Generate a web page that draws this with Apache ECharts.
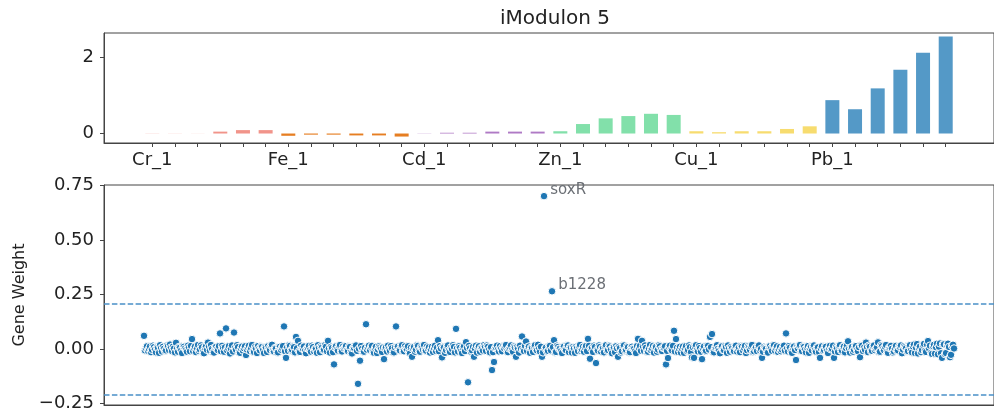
<!DOCTYPE html>
<html>
<head>
<meta charset="utf-8">
<title>iModulon 5</title>
<script src="https://cdn.jsdelivr.net/npm/echarts@6/dist/echarts.min.js"></script>
<style>
html, body { margin: 0; padding: 0; background: #fff; }
#chart { width: 994px; height: 414px; }
</style>
</head>
<body>
<div id="chart"></div>
<script>
// activity of the iModulon per sample, 6 samples per group
var groupLabels = ['Cr_1', 'Fe_1', 'Cd_1', 'Zn_1', 'Cu_1', 'Pb_1'];
var groupColors = ['#f1948a', '#e67e22', '#af7ac5', '#82e0aa', '#f7dc6f', '#5499c7'];
var groupSize = 6;
var activity = [
	0.004, -0.003, 0.002, 0.05, 0.09, 0.09,
	-0.06, -0.03, -0.03, -0.05, -0.05, -0.08,
	-0.005, 0.02, 0.02, 0.05, 0.05, 0.05,
	0.06, 0.25, 0.40, 0.46, 0.52, 0.49,
	0.06, 0.035, 0.06, 0.06, 0.12, 0.19,
	0.88, 0.64, 1.19, 1.68, 2.13, 2.56
];
var activityTicks = [0, 2];

// gene weights, in gene order
var geneWeights = [
	.061,-.006,.004,.013,-.008,.001,.012,-.014,-.003,.016,.009,-.002,-.015,.008,.006,-.017,.018,.005,-.011,.011,
	.002,-.009,-.006,.017,.014,-.004,.021,.007,-.009,.012,.003,-.015,.029,.002,-.012,.010,.007,-.007,-.018,.014,
	.011,.003,-.004,-.012,.016,.007,-.010,.015,.046,-.008,.005,.012,-.014,.004,.019,-.009,-.002,.017,.008,-.013,
	-.019,.006,.013,-.003,.030,.011,-.007,.019,.001,-.016,-.016,.008,.010,-.001,-.005,.014,.072,-.010,.015,.005,
	-.012,.008,.095,-.005,.006,.014,-.020,.002,.017,-.011,.076,.006,-.003,.018,.009,-.014,-.017,.003,.012,-.007,
	.004,.013,-.027,-.002,.008,.016,-.009,.005,.019,-.012,-.013,.009,.002,-.018,.014,.001,-.006,.012,.010,-.004,
	-.018,.010,.007,-.013,.013,.002,-.004,.017,.020,-.007,-.011,.005,.003,-.016,-.015,.011,.011,-.003,.006,.014,
	.104,-.009,-.040,.007,-.008,.018,.015,-.006,-.002,.012,.009,-.015,.056,.004,.038,-.010,-.013,.016,.004,.001,
	.012,-.008,-.019,.004,.007,.015,-.005,-.012,.016,.009,-.010,.001,.002,-.017,.018,.006,-.014,.013,.008,-.004,
	-.003,.018,.011,-.010,.038,.003,-.016,.011,.005,-.014,-.070,.007,.013,-.002,-.007,.016,.019,-.009,-.011,.012,
	.003,.009,.014,-.006,-.009,.012,.010,-.015,-.020,.004,.006,.017,.017,-.008,-.159,.002,-.053,.014,.001,-.011,
	-.012,.006,.114,-.003,.008,.016,-.004,.010,.015,-.013,-.017,.005,.011,-.018,-.002,.013,.007,.001,-.013,.008,
	-.046,.005,.009,-.011,.016,.002,-.008,.014,.004,-.016,-.015,.008,.104,.011,.012,-.005,-.006,.017,.018,-.009,
	-.010,.013,.003,-.001,.013,-.014,-.019,.007,-.035,.003,.010,-.012,-.003,.018,.015,-.007,-.012,.010,.006,-.003,
	.019,-.004,-.007,.012,.002,.009,-.016,-.002,.011,-.013,.005,.016,-.009,.006,.041,-.010,.014,.003,-.038,.011,
	.008,-.017,-.004,.014,.017,-.006,-.013,.008,.001,.018,.010,-.015,.093,.004,-.011,.013,.006,-.009,-.018,.007,
	.013,-.009,.032,.006,-.152,.015,.004,-.012,-.006,.010,-.035,.002,.016,-.016,.009,.013,-.012,.005,.003,-.007,
	.018,.011,-.008,.017,.011,-.003,-.015,.009,-.096,-.014,-.059,.004,.007,.016,-.002,-.011,.014,.001,-.010,.012,
	.005,.014,.019,-.010,-.014,.003,.008,.017,-.005,-.012,.012,.007,-.035,.009,.002,-.016,.016,.001,.058,-.004,
	-.009,.015,.035,-.008,.010,.012,-.017,.006,.006,-.013,.013,.018,-.003,-.006,.020,.002,-.011,.011,-.035,-.015,
	.701,.004,.007,-.011,-.008,.013,.015,-.006,.265,.009,.041,-.015,-.013,.016,.010,.001,.003,-.009,-.018,.012,
	.012,-.003,-.005,.018,.017,-.014,.008,.007,-.016,.010,.004,-.017,.011,.005,-.009,.014,.019,-.008,-.002,.011,
	-.012,.007,.014,-.009,.047,.015,-.044,.002,.006,-.013,.016,.010,-.064,-.004,-.007,.017,.010,-.011,.002,.006,
	-.015,.013,.018,-.007,-.004,.016,.012,-.002,-.019,.009,.008,-.014,.013,.004,-.035,.011,.005,-.016,-.010,.018,
	.017,-.006,-.003,.012,.009,-.015,-.014,.008,.011,.003,.001,-.010,-.018,.014,.047,.005,.015,-.008,.038,.011,
	-.008,.017,.006,-.013,-.012,.002,.019,-.005,.004,.015,-.016,.009,.010,-.012,-.002,.018,.013,-.001,-.009,.006,
	.007,.013,-.070,-.008,-.041,.010,.016,-.003,-.006,.015,.084,-.011,.046,.006,-.013,.002,.011,-.016,.003,.012,
	-.017,.004,.014,-.009,-.004,.017,.009,-.014,-.038,.008,-.040,.011,.018,-.005,-.011,.014,.005,-.012,-.046,.003,
	.012,-.010,-.007,.016,.015,-.002,.056,.009,.069,-.013,-.015,.006,.008,.018,.002,-.007,-.019,.011,.013,-.004,
	-.005,.014,.010,-.017,.017,.003,-.012,.010,.004,-.008,-.009,.013,.016,-.011,.001,.007,-.014,.015,.011,-.006,
	.006,.015,-.018,-.005,.013,.008,-.003,.012,.019,-.014,-.010,.004,.008,-.009,.015,.017,-.006,.001,-.040,-.012,
	.011,.006,.002,-.016,-.016,.011,.014,.003,-.008,.018,.018,-.007,.005,.013,-.013,-.001,.010,-.010,-.002,.009,
	.016,-.007,.072,.003,-.011,.014,.007,-.012,-.017,.006,.012,-.004,-.050,.010,.003,.016,.019,-.010,-.009,.013,
	.010,-.002,-.015,.008,.014,-.017,.004,.011,-.006,.015,.017,-.005,-.012,.009,.008,-.014,-.040,.002,.013,-.008,
	-.004,.012,.011,-.008,-.018,.005,.015,-.001,.002,.016,-.040,-.011,.009,.003,-.013,.014,.018,-.006,-.007,.010,
	.012,-.015,.005,.017,.036,.002,-.016,.007,.010,-.012,-.003,.013,.014,-.004,-.010,.009,-.037,.018,.016,-.009,
	.006,-.003,.030,.010,-.014,.016,.011,-.009,-.008,.013,.017,-.005,.003,.008,.031,-.014,-.012,.018,.013,.001,
	-.005,.011,.019,-.012,-.017,.006,.008,.015,.002,-.016,-.011,.004,.015,-.008,-.006,.012,.010,.017,-.019,-.002,
	.014,.009,.004,-.011,-.009,.017,.018,-.006,-.015,.012,.021,-.018,.007,.023,-.020,.005,.012,-.014,-.004,.019,
	.024,-.008,-.013,.021,.037,.003,.016,-.017,-.022,.014,.020,-.021,.009,.025,-.024,.011,.026,-.019,-.040,.022,
	.022,-.023,-.018,.019,.025,.010,-.037,-.026,.015,.020,.003
];
var labelGeneIdx = [400, 408];
var labelGeneNames = ['soxR', 'b1228'];
var weightTicks = [-0.25, 0, 0.25, 0.5, 0.75];
var threshold = 0.21;

var FONT = 'DejaVu Sans';
var chart = echarts.init(document.getElementById('chart'), null, { renderer: 'canvas' });

// bars, coloured by group
var barData = [];
var sampleTicks = [];
var groupTicks = [];
for (var i = 0; i < activity.length; i++) {
	var g = Math.floor(i / groupSize);
	sampleTicks.push(i);
	if (i % groupSize == 0) groupTicks.push(i);
	barData.push({
		value: [i, activity[i]],
		itemStyle: { color: groupColors[g] }
	});
}

// gene points, two of them named
var geneData = [];
for (var j = 0; j < geneWeights.length; j++) {
	var item = { value: [j, geneWeights[j]] };
	var k = labelGeneIdx.indexOf(j);
	if (k >= 0) {
		item.name = labelGeneNames[k];
		item.label = {
			show: true,
			position: 'right',
			distance: 2,
			offset: [0, -6],
			formatter: '{b}',
			color: '#6b6f75',
			fontSize: 15,
			fontFamily: FONT
		};
	}
	geneData.push(item);
}

function fmtWeight(v) {
	var s = Math.abs(v).toFixed(2);
	return v < 0 ? '\u2212' + s : s;
}

var axisCommon = {
	axisLine: { show: true, onZero: false, lineStyle: { color: '#444' } },
	splitLine: { show: false }
};

var option = {
	animation: false,
	backgroundColor: '#fff',
	title: {
		text: 'iModulon 5',
		left: 550,
		top: 4,
		textAlign: 'center',
		textStyle: { fontFamily: FONT, fontSize: 20, fontWeight: 'normal', color: '#222' }
	},
	grid: [
		{ left: 104, top: 33, width: 892, height: 110, show: true, borderColor: '#444', borderWidth: 1 },
		{ left: 104, top: 185, width: 892, height: 220, show: true, borderColor: '#444', borderWidth: 1 }
	],
	xAxis: [{
		type: 'value',
		gridIndex: 0,
		min: -2.13,
		max: 37.13,
		axisLine: axisCommon.axisLine,
		splitLine: axisCommon.splitLine,
		axisTick: { show: true, customValues: sampleTicks, length: 4, lineStyle: { color: '#444' } },
		axisLabel: {
			show: true,
			customValues: groupTicks,
			formatter: function(v) { return groupLabels[Math.round(v / groupSize)]; },
			fontFamily: FONT, fontSize: 18, color: '#222', margin: 8
		}
	}, {
		type: 'value',
		gridIndex: 1,
		min: -40,
		max: 850,
		axisLine: axisCommon.axisLine,
		splitLine: axisCommon.splitLine,
		axisTick: { show: false },
		axisLabel: { show: false }
	}],
	yAxis: [{
		type: 'value',
		gridIndex: 0,
		min: -0.25,
		max: 2.65,
		axisLine: axisCommon.axisLine,
		splitLine: axisCommon.splitLine,
		axisTick: { show: true, customValues: activityTicks, length: 4, lineStyle: { color: '#444' } },
		axisLabel: {
			show: true, customValues: activityTicks,
			fontFamily: FONT, fontSize: 18, color: '#222', margin: 10
		}
	}, {
		type: 'value',
		gridIndex: 1,
		min: -0.256,
		max: 0.752,
		name: 'Gene Weight',
		nameLocation: 'middle',
		nameGap: 76,
		nameRotate: 90,
		nameTextStyle: { fontFamily: FONT, fontSize: 16, color: '#222' },
		axisLine: axisCommon.axisLine,
		splitLine: axisCommon.splitLine,
		axisTick: { show: true, customValues: weightTicks, length: 4, lineStyle: { color: '#444' } },
		axisLabel: {
			show: true, customValues: weightTicks, formatter: fmtWeight,
			fontFamily: FONT, fontSize: 18, color: '#222', margin: 10
		}
	}],
	series: [{
		type: 'bar',
		xAxisIndex: 0,
		yAxisIndex: 0,
		barWidth: 14,
		data: barData
	}, {
		type: 'scatter',
		xAxisIndex: 1,
		yAxisIndex: 1,
		symbolSize: 7.5,
		itemStyle: { color: '#1f77b4', borderColor: '#fff', borderWidth: 1.0, opacity: 1 },
		emphasis: { disabled: true },
		data: geneData,
		markLine: {
			silent: true,
			symbol: 'none',
			label: { show: false },
			lineStyle: { color: '#4a90c8', width: 1.6, type: [5.5, 2.4] },
			data: [{ yAxis: threshold }, { yAxis: -threshold }]
		}
	}]
};

chart.setOption(option);

window.onresize = function() {
	chart.resize();
};
</script>
</body>
</html>
